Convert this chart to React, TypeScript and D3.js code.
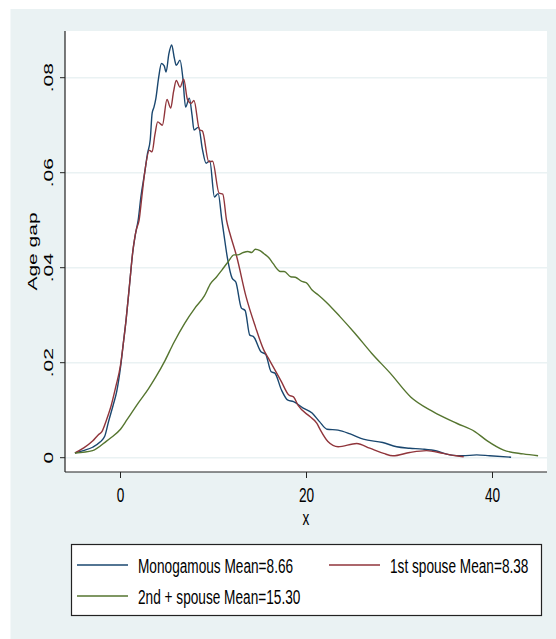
import React from 'react';
import * as d3 from 'd3';

// kernel density estimates: [age gap, density]
const monogamous: [number, number][] = [
  [-4.9, 0.001], [-4, 0.0015], [-3, 0.0022], [-2.2, 0.0033], [-1.7, 0.0045], [-1.3, 0.0075],
  [-0.8, 0.011], [-0.4, 0.014], [0, 0.019], [0.3, 0.024], [0.6, 0.029], [1.0, 0.037],
  [1.3, 0.043], [1.6, 0.047], [1.9, 0.05], [2.2, 0.055], [2.6, 0.06], [2.9, 0.064],
  [3.2, 0.067], [3.4, 0.0725], [3.6, 0.0738], [3.8, 0.0756], [4.1, 0.08], [4.4, 0.083],
  [4.7, 0.0825], [4.9, 0.0812], [5.2, 0.085], [5.5, 0.0869], [5.8, 0.084], [6.0, 0.0826],
  [6.4, 0.0837], [6.7, 0.08], [7.0, 0.0738], [7.4, 0.0757], [7.7, 0.072], [7.9, 0.069],
  [8.4, 0.0696], [8.8, 0.065], [9.2, 0.062], [9.6, 0.0625], [10.1, 0.0549], [10.5, 0.0556],
  [10.9, 0.05], [11.1, 0.0473], [11.5, 0.042], [12.0, 0.0378], [12.4, 0.037], [13.0, 0.0315],
  [13.4, 0.031], [13.9, 0.0258], [14.3, 0.0255], [15.1, 0.0223], [15.6, 0.0218], [16.2, 0.0181],
  [16.6, 0.0178], [17.3, 0.0143], [18.0, 0.0121], [18.6, 0.0118], [19.6, 0.0105], [20.6, 0.0094],
  [21.4, 0.0076], [22.2, 0.006], [23.4, 0.0058], [24.7, 0.005], [26.1, 0.0039], [28.2, 0.0032],
  [29.7, 0.0023], [31.1, 0.002], [32.5, 0.0018], [34.0, 0.0014], [35.4, 0.0006], [36.8, 0.0004],
  [38.3, 0.0006], [39.7, 0.0004], [42.0, 0.0001],
];

const firstSpouse: [number, number][] = [
  [-4.9, 0.001], [-4, 0.002], [-3, 0.0035], [-2.4, 0.0048], [-2, 0.0055], [-1.5, 0.008],
  [-1.0, 0.011], [-0.5, 0.015], [0, 0.0195], [0.3, 0.024], [0.6, 0.029], [1.0, 0.037],
  [1.3, 0.043], [1.7, 0.048], [2.0, 0.05], [2.3, 0.055], [2.6, 0.06], [3.1, 0.0647],
  [3.4, 0.0644], [3.7, 0.068], [4.0, 0.0707], [4.5, 0.07], [5.0, 0.0754], [5.4, 0.0736],
  [5.7, 0.077], [6.0, 0.0794], [6.4, 0.078], [6.8, 0.0797], [7.2, 0.0754], [7.6, 0.0746],
  [7.9, 0.0752], [8.5, 0.069], [8.8, 0.0688], [9.5, 0.0623], [9.9, 0.0624], [10.6, 0.0557],
  [11.0, 0.0555], [11.4, 0.05], [11.75, 0.0473], [12.5, 0.0423], [13.5, 0.0339], [14.5, 0.0276],
  [15.4, 0.0227], [16.0, 0.0206], [17.3, 0.016], [18.1, 0.0132], [18.6, 0.0128], [19.1, 0.011],
  [20.4, 0.0086], [21.1, 0.0073], [21.5, 0.0058], [22.3, 0.0034], [23.4, 0.0023], [25.4, 0.003],
  [26.8, 0.002], [28.3, 0.0009], [29.3, 0.0004], [31.1, 0.0011], [32.9, 0.0015], [34.7, 0.0009],
  [36.1, 0.0004], [36.9, 0.0002],
];

const secondSpouse: [number, number][] = [
  [-4.9, 0.001], [-3, 0.0015], [-1.5, 0.0035], [-1.1, 0.0041], [0, 0.006], [0.7, 0.008],
  [1.9, 0.0115], [3.0, 0.0145], [3.8, 0.017], [4.8, 0.0205], [5.7, 0.0241], [6.9, 0.0283],
  [8.0, 0.0315], [9.0, 0.034], [9.7, 0.0367], [10.3, 0.038], [10.9, 0.0395], [11.6, 0.0413],
  [12.2, 0.0427], [12.6, 0.0427], [13.2, 0.0432], [13.7, 0.0434], [14.1, 0.0432], [14.5, 0.0439],
  [15.0, 0.0436], [15.4, 0.043], [16.0, 0.042], [16.4, 0.0409], [17.2, 0.0392], [17.6, 0.0392],
  [18.3, 0.0381], [18.8, 0.038], [19.5, 0.0371], [20.0, 0.0368], [20.6, 0.0353], [21.3, 0.0342],
  [22.1, 0.0328], [23.6, 0.0297], [25.2, 0.0262], [27.0, 0.022], [29.0, 0.0178], [31.2, 0.0128],
  [33.6, 0.0097], [36.2, 0.0072], [38.1, 0.0055], [39.4, 0.0036], [41.2, 0.0016], [43.3, 0.0008],
  [44.9, 0.0004],
];

const xTicks = [0, 20, 40];
const yTicks = [0, 0.02, 0.04, 0.06, 0.08];
const yTickLabels = ['0', '.02', '.04', '.06', '.08'];

const seriesNames = ['Monogamous Mean=8.66', '1st spouse Mean=8.38', '2nd + spouse Mean=15.30'];
const seriesColors = ['#1a476f', '#90353b', '#55752f'];
const seriesData = [monogamous, firstSpouse, secondSpouse];

const font = '"Liberation Sans", Arial, sans-serif';
const fs = 21;
const squeeze = 0.65; // the text in the picture is tall and narrow

export default function App() {
  const plot = { left: 65, right: 547, top: 31, bottom: 472 };

  const x = d3.scaleLinear().domain([0, 20]).range([120.5, 306.5]);
  const y = d3.scaleLinear().domain([0, 0.08]).range([457.7, 77.7]);

  const line = d3.line<[number, number]>()
    .x(d => x(d[0]))
    .y(d => y(d[1]))
    .curve(d3.curveMonotoneX);

  // legend slots: two columns, second row holds the third series
  const legendPos = [
    { lx: 77, ly: 565 },
    { lx: 329, ly: 565 },
    { lx: 77, ly: 596 },
  ];

  return (
    <svg width={556} height={639} style={{ position: 'absolute', left: 0, top: 0 }}>
      <rect x={10.5} y={9} width={546} height={630} fill="#eaf2f3" />
      <rect x={plot.left} y={plot.top} width={plot.right - plot.left} height={plot.bottom - plot.top} fill="#ffffff" />

      {yTicks.map(t => (
        <line key={'g' + t} x1={plot.left} x2={plot.right} y1={y(t)} y2={y(t)} stroke="#eaf2f3" strokeWidth={1.5} />
      ))}

      {seriesData.map((s, i) => (
        <path key={i} d={line(s) as string} fill="none" stroke={seriesColors[i]} strokeWidth={1.4} strokeLinejoin="round" />
      ))}

      {/* axes */}
      <line x1={plot.left} x2={plot.left} y1={plot.top} y2={plot.bottom} stroke="#222" strokeWidth={1.2} />
      <line x1={plot.left} x2={plot.right} y1={plot.bottom} y2={plot.bottom} stroke="#222" strokeWidth={1.2} />

      {yTicks.map((t, i) => (
        <g key={'y' + t}>
          <line x1={plot.left - 5} x2={plot.left} y1={y(t)} y2={y(t)} stroke="#222" strokeWidth={1} />
          <text transform={`translate(53,${y(t)}) scale(${squeeze},1) rotate(-90)`} textAnchor="middle"
            fontFamily={font} fontSize={fs} fill="#000">{yTickLabels[i]}</text>
        </g>
      ))}

      {xTicks.map(t => (
        <g key={'x' + t}>
          <line x1={x(t)} x2={x(t)} y1={plot.bottom} y2={plot.bottom + 6} stroke="#222" strokeWidth={1} />
          <text transform={`translate(${x(t)},502) scale(${squeeze},1)`} textAnchor="middle"
            fontFamily={font} fontSize={fs} fill="#000">{t}</text>
        </g>
      ))}

      <text transform={`translate(${(plot.left + plot.right) / 2},525) scale(${squeeze},1)`} textAnchor="middle"
        fontFamily={font} fontSize={fs} fill="#000">x</text>
      <text transform={`translate(37,${(plot.top + plot.bottom) / 2}) scale(${squeeze},1) rotate(-90)`} textAnchor="middle"
        fontFamily={font} fontSize={fs} fill="#000">Age gap</text>

      {/* legend */}
      <rect x={71.5} y={544.5} width={470} height={71} fill="#ffffff" stroke="#222" strokeWidth={1.2} />
      {seriesNames.map((name, i) => (
        <g key={name}>
          <line x1={legendPos[i].lx} x2={legendPos[i].lx + 51} y1={legendPos[i].ly} y2={legendPos[i].ly}
            stroke={seriesColors[i]} strokeWidth={1.6} />
          <text transform={`translate(${legendPos[i].lx + 61},${legendPos[i].ly + 7.5}) scale(${squeeze},1)`}
            fontFamily={font} fontSize={fs} fill="#000">{name}</text>
        </g>
      ))}
    </svg>
  );
}
